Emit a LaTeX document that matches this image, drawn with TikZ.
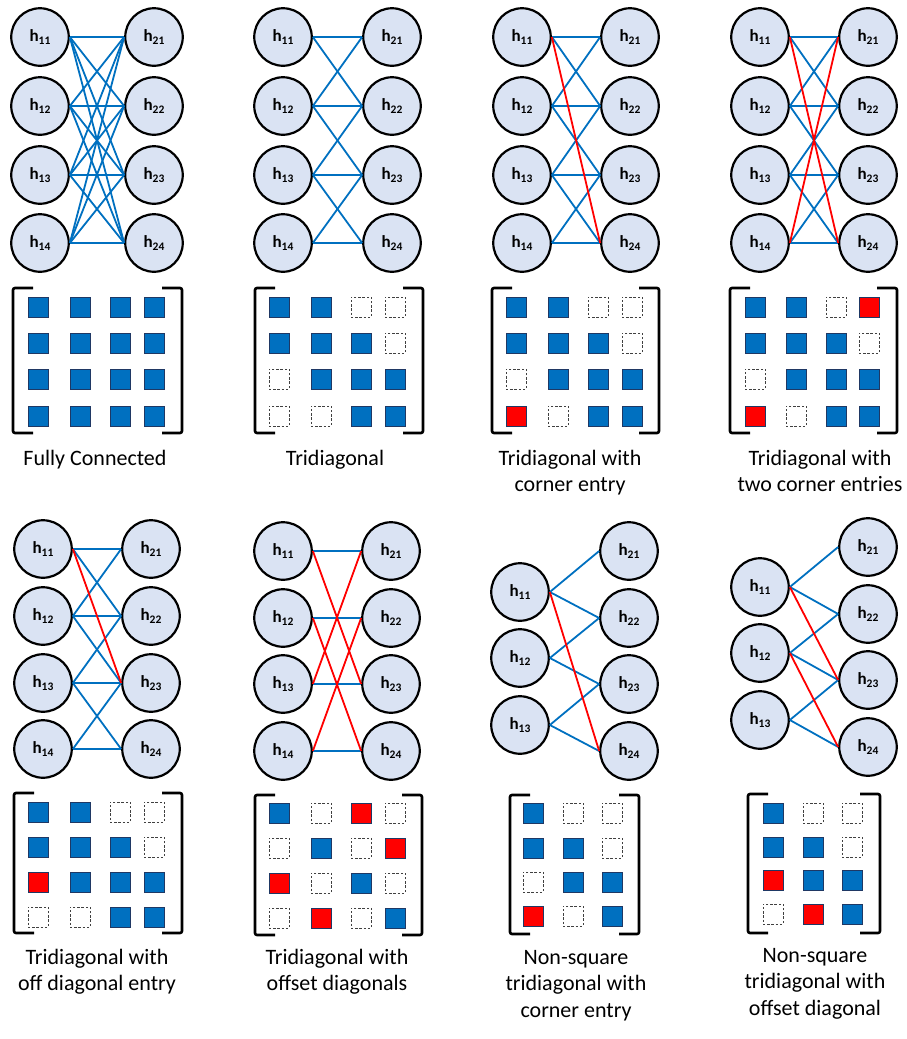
\documentclass[tikz,border=0pt]{standalone}
\usepackage{fontspec}
\setmainfont{Carlito}
\usepackage{tikz}
\definecolor{spblue}{HTML}{0070C0}
\definecolor{spred}{HTML}{FF0000}
\definecolor{spfill}{HTML}{DAE3F3}
\definecolor{spline}{HTML}{1F3864}
\definecolor{spgray}{HTML}{404040}
\newcommand{\hlab}[1]{\textbf{h\raisebox{-2.8pt}{\fontsize{11.5}{11.5}\selectfont\bfseries #1}}}
\newcommand{\cellrow}[4]{\foreach \cc/\xx/\kk in {#4} \node[sp \kk] (#1-m#2\cc) at (\xx,#3) {};}
\tikzset{
  sp unit/.style={draw=black, fill=spfill, circle, minimum size=57.5pt, inner sep=0pt,
    line width=2.2pt, font=\fontsize{17}{17}\selectfont},
  sp edge/.style={draw=spblue, line width=1.8pt},
  sp extra/.style={draw=spred, line width=1.8pt},
  sp cell/.style={draw=spline, fill=spblue, minimum size=20pt, inner sep=0pt, line width=0.7pt},
  sp hit/.style={sp cell, fill=spred},
  sp zero/.style={draw=spgray, dash pattern=on 2.4pt off 1.8pt, minimum size=20pt,
    inner sep=0pt, line width=0.8pt},
  sp bracket/.style={draw=black, line width=2.6pt, rounded corners=2pt},
  sp caption/.style={font=\fontsize{22}{26.5}\selectfont, align=center, inner sep=0pt, anchor=base},
}
\begin{document}
\begin{tikzpicture}[x=1pt, y=-1pt]
 \useasboundingbox (0,0) rectangle (906,1039);
 \foreach \p/\l/\r in {p1/40/154, p2/283/392, p3/522/630, p4/760/868}
   \foreach \i/\y in {1/37, 2/106, 3/175, 4/243} {
     \node[sp unit] (\p-h1\i) at (\l,\y) {\hlab{1\i}};
     \node[sp unit] (\p-h2\i) at (\r,\y) {\hlab{2\i}};
   }
 \foreach \i/\y in {1/549, 2/616, 3/683, 4/749} {
   \node[sp unit] (p5-h1\i) at (43,\y) {\hlab{1\i}};
   \node[sp unit] (p5-h2\i) at (151,\y) {\hlab{2\i}};
 }
 \foreach \i/\y in {1/551, 2/618, 3/684, 4/751} {
   \node[sp unit] (p6-h1\i) at (283,\y) {\hlab{1\i}};
   \node[sp unit] (p6-h2\i) at (391,\y) {\hlab{2\i}};
   \node[sp unit] (p7-h2\i) at (629,\y) {\hlab{2\i}};
   \node[sp unit] (p8-h2\i) at (868,\y-4) {\hlab{2\i}};
 }
 \foreach \i/\y in {1/592, 2/658, 3/725} {
   \node[sp unit] (p7-h1\i) at (520,\y) {\hlab{1\i}};
   \node[sp unit] (p8-h1\i) at (760,\y-5) {\hlab{1\i}};
 }

 \foreach \i in {1,...,4}
   \foreach \j in {1,...,4}
     \draw[sp edge] (p1-h1\i.east) -- (p1-h2\j.west);
 \foreach \p in {p2,p3,p4,p5}
   \foreach \i/\j in {1/1,1/2,2/1,2/2,2/3,3/2,3/3,3/4,4/3,4/4}
     \draw[sp edge] (\p-h1\i.east) -- (\p-h2\j.west);
 \foreach \i in {1,...,4}
   \draw[sp edge] (p6-h1\i.east) -- (p6-h2\i.west);
 \foreach \p in {p7,p8}
   \foreach \i/\j in {1/1,1/2,2/2,2/3,3/3,3/4}
     \draw[sp edge] (\p-h1\i.east) -- (\p-h2\j.west);
 \draw[sp extra] (p3-h11.east) -- (p3-h24.west);
 \draw[sp extra] (p4-h11.east) -- (p4-h24.west);
 \draw[sp extra] (p4-h14.east) -- (p4-h21.west);
 \draw[sp extra] (p5-h11.east) -- (p5-h23.west);
 \foreach \i/\j in {1/3,2/4,3/1,4/2}
   \draw[sp extra] (p6-h1\i.east) -- (p6-h2\j.west);
 \draw[sp extra] (p7-h11.east) -- (p7-h24.west);
 \draw[sp extra] (p8-h11.east) -- (p8-h23.west);
 \draw[sp extra] (p8-h12.east) -- (p8-h24.west);

 \foreach \rr/\yy in {1/307, 2/343, 3/379, 4/416} {
   \cellrow{p1}{\rr}{\yy}{1/38/cell,2/80/cell,3/120/cell,4/154/cell}
 }
 \cellrow{p2}{1}{307}{1/279/cell,2/321/cell,3/361/zero,4/395/zero}
 \cellrow{p2}{2}{343}{1/279/cell,2/321/cell,3/361/cell,4/395/zero}
 \cellrow{p2}{3}{379}{1/279/zero,2/321/cell,3/361/cell,4/395/cell}
 \cellrow{p2}{4}{416}{1/279/zero,2/321/zero,3/361/cell,4/395/cell}
 \cellrow{p3}{1}{307}{1/516/cell,2/558/cell,3/598/zero,4/632/zero}
 \cellrow{p3}{2}{343}{1/516/cell,2/558/cell,3/598/cell,4/632/zero}
 \cellrow{p3}{3}{379}{1/516/zero,2/558/cell,3/598/cell,4/632/cell}
 \cellrow{p3}{4}{416}{1/516/hit,2/558/zero,3/598/cell,4/632/cell}
 \cellrow{p4}{1}{307}{1/755/cell,2/796/cell,3/836/zero,4/869/hit}
 \cellrow{p4}{2}{343}{1/755/cell,2/796/cell,3/836/cell,4/869/zero}
 \cellrow{p4}{3}{379}{1/755/zero,2/796/cell,3/836/cell,4/869/cell}
 \cellrow{p4}{4}{416}{1/755/hit,2/796/zero,3/836/cell,4/869/cell}
 \cellrow{p5}{1}{812}{1/38/cell,2/80/cell,3/120/zero,4/154/zero}
 \cellrow{p5}{2}{847}{1/38/cell,2/80/cell,3/120/cell,4/154/zero}
 \cellrow{p5}{3}{882}{1/38/hit,2/80/cell,3/120/cell,4/154/cell}
 \cellrow{p5}{4}{917}{1/38/zero,2/80/zero,3/120/cell,4/154/cell}
 \cellrow{p6}{1}{813}{1/279/cell,2/321/zero,3/361/hit,4/395/zero}
 \cellrow{p6}{2}{848}{1/279/zero,2/321/cell,3/361/zero,4/395/hit}
 \cellrow{p6}{3}{883}{1/279/hit,2/321/zero,3/361/cell,4/395/zero}
 \cellrow{p6}{4}{918}{1/279/zero,2/321/hit,3/361/zero,4/395/cell}
 \cellrow{p7}{1}{813}{1/533/cell,2/573/zero,3/612/zero}
 \cellrow{p7}{2}{848}{1/533/cell,2/573/cell,3/612/zero}
 \cellrow{p7}{3}{882}{1/533/zero,2/573/cell,3/612/cell}
 \cellrow{p7}{4}{916}{1/533/hit,2/573/zero,3/612/cell}
 \cellrow{p8}{1}{813}{1/773/cell,2/813/zero,3/852/zero}
 \cellrow{p8}{2}{847}{1/773/cell,2/813/cell,3/852/zero}
 \cellrow{p8}{3}{880}{1/773/hit,2/813/cell,3/852/cell}
 \cellrow{p8}{4}{914}{1/773/zero,2/813/hit,3/852/cell}

 \foreach \a/\b/\t/\u in {13/182/288/433, 255/423/288/433, 492/659/288/433, 730/897/288/433,
     14/182/793/933, 255/422/795/935, 510/639/795/934, 748/880/794/933} {
   \draw[sp bracket] (\a+20,\t) -- (\a,\t) -- (\a,\u) -- (\a+20,\u);
   \draw[sp bracket] (\b-20,\t) -- (\b,\t) -- (\b,\u) -- (\b-20,\u);
 }

 \node[sp caption] (p1-cap) at (95,465) {Fully Connected};
 \node[sp caption] (p2-cap) at (335,465) {Tridiagonal};
 \node[sp caption] (p3-cap) at (570,491.5) {Tridiagonal with\\corner entry};
 \node[sp caption] (p4-cap) at (820,491.5) {Tridiagonal with\\two corner entries};
 \node[sp caption] (p5-cap) at (97,990.5) {Tridiagonal with\\off diagonal entry};
 \node[sp caption] (p6-cap) at (337,990.5) {Tridiagonal with\\offset diagonals};
 \node[sp caption] (p7-cap) at (576,1017) {Non-square\\tridiagonal with\\corner entry};
 \node[sp caption] (p8-cap) at (815,1015) {Non-square\\tridiagonal with\\offset diagonal};
\end{tikzpicture}
\end{document}
